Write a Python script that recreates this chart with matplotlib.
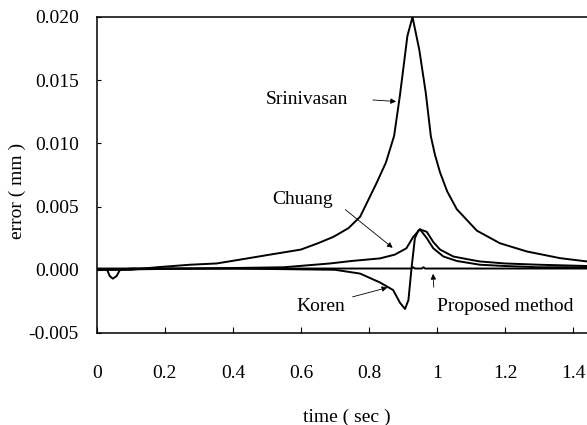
import matplotlib
matplotlib.use("Agg")
import matplotlib.pyplot as plt

# time (sec) and error (mm)
t_srini = [0, 0.1, 0.176, 0.274, 0.352, 0.42, 0.509, 0.6, 0.65, 0.695, 0.74, 0.774, 0.823,
           0.85, 0.874, 0.891, 0.899, 0.913, 0.928, 0.948, 0.967, 0.982, 0.994, 1.009, 1.03,
           1.058, 1.117, 1.185, 1.264, 1.362, 1.441]
e_srini = [0, 0, 0.0002, 0.0004, 0.0005, 0.0008, 0.0012, 0.0016, 0.0021, 0.0026, 0.0033,
           0.0042, 0.0069, 0.0085, 0.0106, 0.0138, 0.0155, 0.0185, 0.0200, 0.0174, 0.0140,
           0.01055, 0.0091, 0.0077, 0.0062, 0.0048, 0.0031, 0.0021, 0.00145, 0.00092, 0.00066]

t_chuang = [0, 0.3, 0.55, 0.685, 0.75, 0.832, 0.876, 0.91, 0.93, 0.94, 0.95, 0.97, 0.989,
            1.009, 1.048, 1.097, 1.126, 1.2, 1.3, 1.441]
e_chuang = [0, 0.0001, 0.0002, 0.0005, 0.0007, 0.0009, 0.0012, 0.0017, 0.0026, 0.0029,
            0.0032, 0.0030, 0.0022, 0.0016, 0.00105, 0.0008, 0.00066, 0.0005, 0.0004, 0.0003]

t_koren = [0, 0.03, 0.038, 0.047, 0.058, 0.068, 0.1, 0.4, 0.7, 0.774, 0.832, 0.871, 0.891,
           0.906, 0.916, 0.925, 0.935, 0.945, 0.95, 0.97, 0.989, 1.019, 1.058, 1.126, 1.2,
           1.3, 1.441]
e_koren = [0, 0, -0.0005, -0.0007, -0.0005, 0, 0.0001, 0.0001, 0, -0.0003, -0.0010,
           -0.0016, -0.0026, -0.0031, -0.0024, 0.0001, 0.0025, 0.0031, 0.0032, 0.0025,
           0.0017, 0.00105, 0.0007, 0.0004, 0.0003, 0.0002, 0.0002]

t_prop = [0, 0.5, 0.9, 0.925, 0.93, 0.935, 0.955, 0.96, 0.965, 1.0, 1.441]
e_prop = [0.0001, 0.0001, 0.0001, 0.0001, 0.0002, 0.0001, 0.0001, 0.0002, 0.0001, 0.0001, 0.0001]

x_ticks = [0, 0.2, 0.4, 0.6, 0.8, 1.0, 1.2, 1.4]
x_labels = ["0", "0.2", "0.4", "0.6", "0.8", "1", "1.2", "1.4"]
y_ticks = [-0.005, 0.0, 0.005, 0.010, 0.015, 0.020]
y_labels = ["-0.005", "0.000", "0.005", "0.010", "0.015", "0.020"]

plt.rcParams["font.family"] = ["Liberation Serif", "DejaVu Serif"]

fig = plt.figure(figsize=(5.87, 4.25), dpi=100)
ax = fig.add_axes([0.165, 0.2165, 0.835, 0.7435])

for t, e in [(t_srini, e_srini), (t_chuang, e_chuang), (t_koren, e_koren), (t_prop, e_prop)]:
    ax.plot(t, e, color="black", lw=1.4)

ax.set_xlim(0, 1.441)
ax.set_ylim(-0.005, 0.020)
ax.spines["right"].set_visible(False)
for s in ["left", "bottom", "top"]:
    ax.spines[s].set_linewidth(1.1)

ax.set_xticks(x_ticks)
ax.set_xticklabels(x_labels)
ax.set_yticks(y_ticks)
ax.set_yticklabels(y_labels)
ax.tick_params(axis="x", direction="in", length=4, width=0.8, pad=23, labelsize=14)
ax.tick_params(axis="y", direction="in", length=3, width=0.8, pad=13, labelsize=14)

ax.set_xlabel("time ( sec )", fontsize=14)
ax.xaxis.set_label_coords(0.51, -0.24)
ax.set_ylabel("error ( mm )", fontsize=14)
ax.yaxis.set_label_coords(-0.145, 0.45)

arrow = dict(arrowstyle="-|>", color="black", lw=0.6, mutation_scale=8)

ax.text(0.618, 0.01345, "Srinivasan", fontsize=14, ha="center", va="center")
ax.annotate("", xy=(0.888, 0.0133), xytext=(0.803, 0.01345), arrowprops=arrow)

ax.text(0.606, 0.00554, "Chuang", fontsize=14, ha="center", va="center")
ax.annotate("", xy=(0.876, 0.0016), xytext=(0.724, 0.0049), arrowprops=arrow)

ax.text(0.659, -0.00293, "Koren", fontsize=14, ha="center", va="center")
ax.annotate("", xy=(0.862, -0.00135), xytext=(0.744, -0.0022), arrowprops=arrow)

ax.text(1.201, -0.00293, "Proposed method", fontsize=14, ha="center", va="center")
ax.annotate("", xy=(0.988, -0.0001), xytext=(0.991, -0.0016), arrowprops=arrow)

fig.savefig("out.png", dpi=100)
